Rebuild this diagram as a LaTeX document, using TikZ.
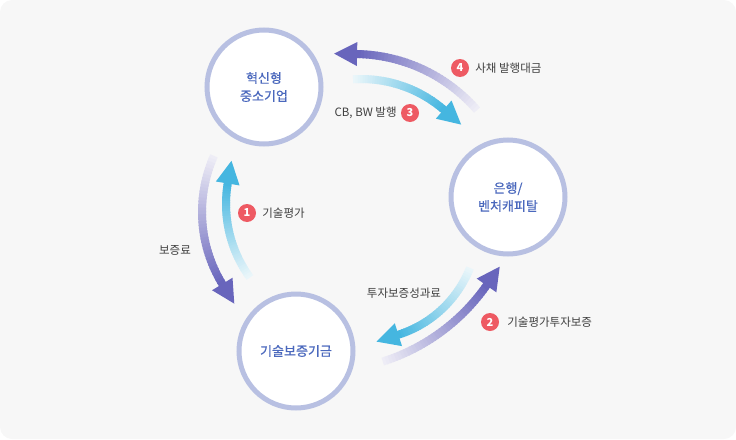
\documentclass[tikz,border=0pt]{standalone}
\usepackage{fontspec}
\usepackage{tikz}
\usetikzlibrary{positioning, arrows.meta}
\newfontfamily\kr{Noto Sans CJK KR}
\newfontfamily\krm{Noto Sans CJK KR}[FakeBold=0.5]

\definecolor{bgGray}{HTML}{F7F7F7}
\definecolor{ringBlue}{HTML}{B8C0E2}
\definecolor{nameBlue}{HTML}{4A68BD}
\definecolor{labelGray}{HTML}{3F3F3F}
\definecolor{badgeRed}{HTML}{EE5A63}
\definecolor{purpleHead}{HTML}{6865BC}
\definecolor{purpleTail}{HTML}{EEEDF6}
\definecolor{cyanHead}{HTML}{45B6E0}
\definecolor{cyanTail}{HTML}{EAF6FA}

% shaded arc arrow: #1 centre, #2 radius, #3 tail angle, #4 tip angle, #5 head colour, #6 tail colour
\newcommand{\gradarc}[6]{%
  \pgfmathsetmacro{\arcdir}{#4>#3 ? 1 : -1}
  \pgfmathsetmacro{\hb}{#4-\arcdir*23/#2*180/pi}
  \pgfmathsetmacro{\tang}{\hb+\arcdir*90}
  \pgfmathsetmacro{\rOut}{#2+12}
  \pgfmathsetmacro{\rIn}{#2-12}
  \foreach \i in {0,...,39} {
    \pgfmathsetmacro{\segA}{#3+(\hb-#3)*\i/40}
    \pgfmathsetmacro{\segB}{#3+(\hb-#3)*(\i+1.4)/40}
    \pgfmathtruncatemacro{\pc}{100*\i/39}
    \draw[shaft, color=#5!\pc!#6] ([shift={(\segA:#2)}]#1) arc[start angle=\segA, end angle=\segB, radius=#2];
  }
  \coordinate (hb) at ([shift={(\hb:#2)}]#1);
  \fill[#5] ([shift={(\hb:\rOut)}]#1) -- ([shift={(\hb:\rIn)}]#1) -- ([shift={(\tang:23)}]hb) -- cycle;
}

\begin{document}
\begin{tikzpicture}[
    x=1pt, y=-1pt,
    org/.style = {circle, draw=ringBlue, line width=5pt, fill=white, minimum size=114pt, inner sep=0pt,
                  align=center, text=nameBlue, font=\krm\fontsize{13}{18}\selectfont},
    badge/.style = {circle, fill=badgeRed, text=white, minimum size=18pt, inner sep=0pt,
                    font=\kr\bfseries\fontsize{11}{11}\selectfont},
    lbl/.style = {text=labelGray, inner sep=1pt, font=\kr\fontsize{11.5}{13}\selectfont},
    shaft/.style = {line width=8pt}
]
    \useasboundingbox (0,0) rectangle (736,439);
    \fill[bgGray, rounded corners=12pt] (0,0) rectangle (736,439);

    \node[org] (sme) at (264,87) {혁신형\\중소기업};
    \node[org] (bank) at (508,197) {은행/\\벤처캐피탈};
    \node[org] (kibo) at (296,351) {기술보증기금};

    % arc centres
    \coordinate (cBond) at (354,217);
    \coordinate (cIssue) at (361,206);
    \coordinate (cEval) at (351,204);
    \coordinate (cFee) at (340,212);
    \coordinate (cPerf) at (364,226);
    \coordinate (cGuar) at (322,170);

    \gradarc{cBond}{163}{-41}{-97}{purpleHead}{purpleTail}
    \gradarc{cIssue}{127}{-93.6}{-39}{cyanHead}{cyanTail}
    \gradarc{cEval}{125}{144}{200}{cyanHead}{cyanTail}
    \gradarc{cFee}{138}{204}{139}{purpleHead}{purpleTail}
    \gradarc{cPerf}{114}{21.6}{84}{cyanHead}{cyanTail}
    \gradarc{cGuar}{201}{72.4}{28.5}{purpleHead}{purpleTail}

    \node[badge] (b4) at (460,68) {4};
    \node[lbl, right=5pt of b4] (l4) {사채 발행대금};
    \node[badge] (b3) at (410,113) {3};
    \node[lbl, left=3pt of b3] (l3) {CB, BW 발행};
    \node[badge] (b1) at (247,213) {1};
    \node[lbl, right=5pt of b1] (l1) {기술평가};
    \node[lbl] (fee) at (175,250) {보증료};
    \node[lbl] (perf) at (404,293) {투자보증성과료};
    \node[badge] (b2) at (490,322) {2};
    \node[lbl, right=7pt of b2] (l2) {기술평가투자보증};
\end{tikzpicture}
\end{document}
